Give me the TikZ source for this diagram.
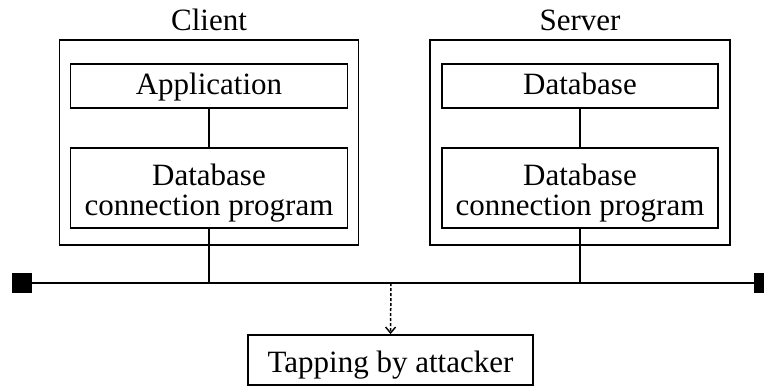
\documentclass[tikz,border=0pt]{standalone}
\usepackage{fontspec}
\setmainfont{Liberation Serif}
\usetikzlibrary{arrows.meta}
\begin{document}
\begin{tikzpicture}[x=1pt,y=-1pt,
  box/.style={draw,line width=1.8pt,inner sep=0pt},
  txt/.style={inner sep=0pt,anchor=base,font=\fontsize{31}{30}\selectfont},
  term/.style={fill=black,draw=black,inner sep=0pt,minimum size=19pt},
  wire/.style={line width=1.8pt}]
\useasboundingbox (0,0) rectangle (764,389);
\node[box,minimum width=299pt,minimum height=205pt] (cout) at (209,142.5) {};
\node[box,minimum width=277pt,minimum height=44pt] (app) at (209,86) {};
\node[box,minimum width=277pt,minimum height=80pt] (cdb) at (209,188) {};
\node[txt] (clbl) at (209,30) {Client};
\node[txt] (apptxt) at (209,94) {Application};
\node[txt] (cdbtxt1) at (209,185) {Database};
\node[txt] (cdbtxt2) at (209,215) {connection program};
\node[box,minimum width=300pt,minimum height=205pt] (sout) at (580,142.5) {};
\node[box,minimum width=276pt,minimum height=44pt] (db) at (580,86) {};
\node[box,minimum width=276pt,minimum height=80pt] (sdb) at (580,188) {};
\node[txt] (slbl) at (580,30) {Server};
\node[txt] (dbtxt) at (580,94) {Database};
\node[txt] (sdbtxt1) at (580,185) {Database};
\node[txt] (sdbtxt2) at (580,215) {connection program};
\node[term] (tl) at (22,283) {};
\node[term] (tr) at (764,283) {};
\node[box,minimum width=285pt,minimum height=50pt] (tap) at (390.5,360) {};
\node[txt] (taptxt) at (390.5,372) {Tapping by attacker};
\coordinate (cb) at (209,283);
\coordinate (sb) at (580,283);
\coordinate (tb) at (391,283);
\draw[wire] (tl) -- (tr);
\draw[wire] (app) -- (cdb);
\draw[wire] (cdb) -- (cb);
\draw[wire] (db) -- (sdb);
\draw[wire] (sdb) -- (sb);
\draw[line width=1.5pt,dash pattern=on 3pt off 2pt,-{Straight Barb[length=6pt,width=10pt,line width=1.4pt]}] (tb) -- (tap.north);
\end{tikzpicture}
\end{document}
